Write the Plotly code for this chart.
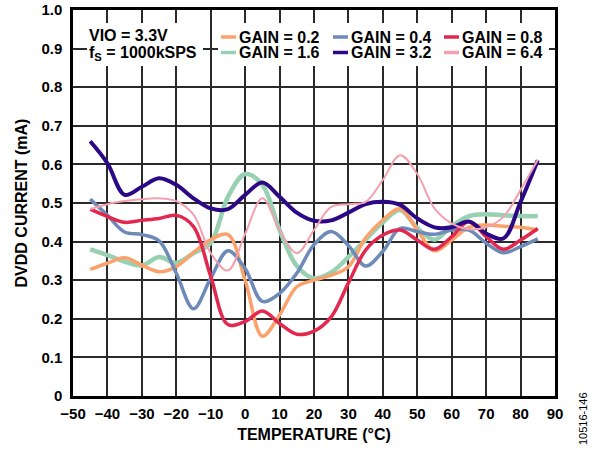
import plotly.graph_objects as go

# ---- data ----
temperature = [-45, -40, -35, -30, -25, -20, -15, -10, -5, 0, 5, 10, 15, 20, 25,
               30, 35, 40, 45, 50, 55, 60, 65, 70, 75, 80, 85]
gain_0_2 = [0.328, 0.344, 0.358, 0.339, 0.322, 0.335, 0.372, 0.405, 0.418, 0.300, 0.155, 0.210, 0.283, 0.300,
            0.313, 0.335, 0.410, 0.456, 0.485, 0.430, 0.376, 0.404, 0.437, 0.443, 0.440, 0.437, 0.430]
gain_0_4 = [0.510, 0.468, 0.425, 0.418, 0.402, 0.318, 0.226, 0.305, 0.376, 0.330, 0.245, 0.266, 0.318, 0.392,
            0.426, 0.390, 0.337, 0.375, 0.434, 0.426, 0.419, 0.430, 0.430, 0.396, 0.371, 0.387, 0.407]
gain_0_8 = [0.484, 0.465, 0.450, 0.455, 0.460, 0.468, 0.439, 0.310, 0.185, 0.193, 0.220, 0.188, 0.160, 0.168,
            0.205, 0.293, 0.378, 0.417, 0.430, 0.404, 0.380, 0.413, 0.452, 0.413, 0.380, 0.404, 0.434]
gain_1_6 = [0.380, 0.365, 0.348, 0.338, 0.360, 0.345, 0.370, 0.397, 0.516, 0.575, 0.547, 0.430, 0.337, 0.305,
            0.320, 0.360, 0.405, 0.450, 0.482, 0.435, 0.405, 0.440, 0.466, 0.471, 0.468, 0.466, 0.466]
gain_3_2 = [0.660, 0.603, 0.521, 0.542, 0.564, 0.547, 0.512, 0.486, 0.484, 0.521, 0.553, 0.516, 0.475, 0.454,
            0.455, 0.475, 0.497, 0.503, 0.495, 0.460, 0.437, 0.437, 0.452, 0.421, 0.408, 0.503, 0.611]
gain_6_4 = [0.484, 0.497, 0.505, 0.510, 0.512, 0.505, 0.470, 0.370, 0.325, 0.420, 0.512, 0.430, 0.370, 0.430,
            0.490, 0.497, 0.503, 0.560, 0.624, 0.575, 0.486, 0.447, 0.432, 0.437, 0.464, 0.534, 0.612]

series_names = ["GAIN = 0.2", "GAIN = 0.4", "GAIN = 0.8", "GAIN = 1.6", "GAIN = 3.2", "GAIN = 6.4"]
series_values = [gain_0_2, gain_0_4, gain_0_8, gain_1_6, gain_3_2, gain_6_4]

x_ticks = [-50, -40, -30, -20, -10, 0, 10, 20, 30, 40, 50, 60, 70, 80, 90]
y_ticks = [0, 0.1, 0.2, 0.3, 0.4, 0.5, 0.6, 0.7, 0.8, 0.9, 1.0]
y_tick_labels = ["0", "0.1", "0.2", "0.3", "0.4", "0.5", "0.6", "0.7", "0.8", "0.9", "1.0"]

# ---- styles ----
colors = ["#FBA26C", "#6E8AB9", "#E3284F", "#97D1B1", "#2C0887", "#F3A1AF"]
widths = [3.5, 3.5, 3.5, 4.5, 4, 2]
draw_order = [3, 0, 1, 2, 4, 5]

W, H = 598, 449
ML, MR, MT, MB = 73, 43, 10, 53
PW, PH = W - ML - MR, H - MT - MB
FONT = "Liberation Sans, Arial, sans-serif"


def px_x(p):
    return (p - ML) / PW


def px_y(p):
    return (H - MB - p) / PH


fig = go.Figure()
for i in draw_order:
    fig.add_trace(go.Scatter(
        x=temperature, y=series_values[i], name=series_names[i], mode="lines",
        line=dict(color=colors[i], width=widths[i], shape="spline", smoothing=1.0),
        showlegend=False, hoverinfo="skip"))

shapes = []
annotations = []
# white boxes behind the text blocks
for (x0, x1) in [(87, 203), (218, 549)]:
    shapes.append(dict(type="rect", xref="paper", yref="paper",
                       x0=px_x(x0), x1=px_x(x1), y0=px_y(66), y1=px_y(23),
                       fillcolor="white", line=dict(width=0), layer="above"))

text_font = dict(family=FONT, size=16, color="black", weight="bold")

# legend (3 columns x 2 rows)
col_x = [221, 333, 444]
row_y = [37, 52.5]
for k, name in enumerate(series_names):
    cx = col_x[k % 3]
    ry = row_y[k // 3]
    shapes.append(dict(type="line", xref="paper", yref="paper",
                       x0=px_x(cx), x1=px_x(cx + 15), y0=px_y(ry), y1=px_y(ry),
                       line=dict(color=colors[k], width=3.5), layer="above"))
    annotations.append(dict(xref="paper", yref="paper", x=px_x(cx + 17), y=px_y(ry),
                            xanchor="left", yanchor="middle", showarrow=False, text=name,
                            font=text_font, borderpad=0, height=14, valign="middle"))

annotations.append(dict(xref="paper", yref="paper", x=px_x(88), y=px_y(35),
                        xanchor="left", yanchor="middle", showarrow=False, text="VIO = 3.3V",
                        font=text_font, borderpad=0))
annotations.append(dict(xref="paper", yref="paper", x=px_x(88), y=px_y(53.5),
                        xanchor="left", yanchor="middle", showarrow=False,
                        text="f<sub>S</sub> = 1000kSPS", font=text_font, borderpad=0))
annotations.append(dict(xref="paper", yref="paper", x=px_x(583), y=px_y(419),
                        xanchor="center", yanchor="middle", showarrow=False, text="10516-146",
                        textangle=-90, font=dict(family=FONT, size=11, color="black")))

tick_font = dict(family=FONT, size=15, color="black", weight="bold")
fig.update_layout(
    width=W, height=H, margin=dict(l=ML, r=MR, t=MT, b=MB, autoexpand=False),
    paper_bgcolor="white", plot_bgcolor="white",
    shapes=shapes, annotations=annotations, showlegend=False,
    xaxis=dict(range=[-50, 90], tickvals=x_ticks, showgrid=True, gridcolor="#2a2a2a", gridwidth=1.6,
               showline=True, linecolor="black", linewidth=2.5, mirror=True, zeroline=False,
               ticks="", tickfont=tick_font, ticklabelstandoff=2,
               title=dict(text="TEMPERATURE (°C)", font=text_font, standoff=9)),
    yaxis=dict(range=[0, 1.0], tickvals=y_ticks, ticktext=y_tick_labels, showgrid=True,
               gridcolor="#2a2a2a", gridwidth=1.6, showline=True, linecolor="black", linewidth=2.5,
               mirror=True, zeroline=False, ticks="", tickfont=tick_font, ticklabelstandoff=5,
               title=dict(text="DVDD CURRENT (mA)", font=text_font, standoff=10)),
)

fig.write_html("out.html", config={"displayModeBar": False},
               post_script="document.body.style.margin='0px';")
